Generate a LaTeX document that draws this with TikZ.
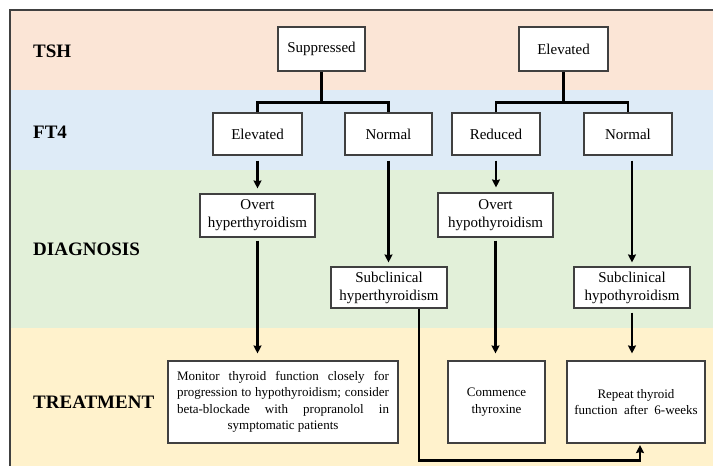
\documentclass[tikz,border=0pt]{standalone}
\usepackage{fontspec}
\setmainfont{Liberation Serif}
\usetikzlibrary{arrows.meta,calc}
\definecolor{bandtsh}{HTML}{FBE5D6}
\definecolor{bandft}{HTML}{DEEBF7}
\definecolor{banddx}{HTML}{E2F0D9}
\definecolor{bandtx}{HTML}{FFF2CC}
\definecolor{edgegray}{HTML}{404040}
\begin{document}
\begin{tikzpicture}[x=1pt,y=-1pt,
  box/.style={draw=edgegray,line width=1.1pt,fill=white,inner sep=0pt,align=center,
    font=\fontsize{15}{18}\selectfont},
  smallbox/.style={box,font=\fontsize{13}{16.5}\selectfont},
  rowlabel/.style={anchor=west,inner sep=0pt,font=\fontsize{19}{22}\selectfont\bfseries},
  conn/.style={line width=2.4pt,black},
  arr/.style={conn,-{Stealth[length=8pt,width=8pt,inset=1pt]}}]
\useasboundingbox (0,0) rectangle (713,466);
% bands
\fill[bandtsh] (10,10) rectangle (713,90);
\fill[bandft] (10,90) rectangle (713,170);
\fill[banddx] (10,170) rectangle (713,328);
\fill[bandtx] (10,328) rectangle (713,466);
\draw[edgegray,line width=1.2pt] (10,466) -- (10,10) -- (713,10);
% row labels
\node[rowlabel] (lTSH) at (33,51) {TSH};
\node[rowlabel] (lFT) at (33,132) {FT4};
\node[rowlabel] (lDX) at (33,249) {DIAGNOSIS};
\node[rowlabel] (lTX) at (33,402) {TREATMENT};
% TSH
\node[box,minimum width=87pt,minimum height=44pt] (supp) at (321.5,49) {Suppressed};
\node[box,minimum width=89pt,minimum height=44pt] (elev) at (563.5,49) {Elevated};
% FT4
\node[box,minimum width=89pt,minimum height=42pt] (fe) at (257.5,134) {Elevated};
\node[box,minimum width=87pt,minimum height=42pt] (nl) at (388.5,134) {Normal};
\node[box,minimum width=88pt,minimum height=42pt] (red) at (496,134) {Reduced};
\node[box,minimum width=88pt,minimum height=42pt] (nr) at (628,134) {Normal};
% diagnosis
\node[box,minimum width=115pt,minimum height=43pt] (oh) at (257.5,215.5) {Overt\\hyperthyroidism};
\node[box,minimum width=115pt,minimum height=44pt] (oo) at (495.5,215) {Overt\\hypothyroidism};
\node[box,minimum width=116pt,minimum height=41pt] (sh) at (389,287.5) {Subclinical\\hyperthyroidism};
\node[box,minimum width=116pt,minimum height=41pt] (so) at (632,287.5) {Subclinical\\hypothyroidism};
% treatment
\node[smallbox,minimum width=230pt,minimum height=82pt,text width=212pt,align=justify] (mon) at (283,402)
  {\leftskip=0pt plus 1fil\rightskip=0pt plus -1fil\parfillskip=0pt plus 2fil
   Monitor thyroid function closely for\linebreak progression to hypothyroidism; consider\linebreak beta-blockade with propranolol in\linebreak symptomatic patients\par};
\node[smallbox,minimum width=97pt,minimum height=82pt] (com) at (496.5,402) {Commence\\thyroxine};
\node[smallbox,minimum width=138pt,minimum height=82pt] (rep) at (636,402) {Repeat thyroid\\function\ \ after\ \ 6-weeks};
% tree connectors
\draw[conn] (supp.south) -- ++(0,31) coordinate (j1);
\draw[conn] (fe.north) |- (j1) -| (nl.north);
\draw[conn] (elev.south) -- ++(0,31) coordinate (j2);
\draw[conn] (red.north) |- (j2) -| (nr.north);
% arrows FT4 -> diagnosis
\draw[arr,shorten <=5pt,shorten >=5pt] (fe.south) -- (fe.south |- oh.north);
\draw[arr,shorten <=5pt,shorten >=4pt] (nl.south) -- (nl.south |- sh.north);
\draw[arr,shorten <=5pt,shorten >=5pt] (red.south) -- (red.south |- oo.north);
\draw[arr,shorten <=5pt,shorten >=4pt] (so.north |- nr.south) -- (so.north);
% arrows diagnosis -> treatment
\draw[arr,shorten <=3pt,shorten >=7pt] (oh.south) -- (oh.south |- mon.north);
\draw[arr,shorten <=3pt,shorten >=7pt] (oo.south) -- (oo.south |- com.north);
\draw[arr,shorten <=4pt,shorten >=7pt] (so.south) -- (so.south |- rep.north);
\draw[arr,shorten >=1.5pt] ([xshift=30pt]sh.south) -- ++(0,152) -| ([xshift=4pt]rep.south);
\end{tikzpicture}
\end{document}
